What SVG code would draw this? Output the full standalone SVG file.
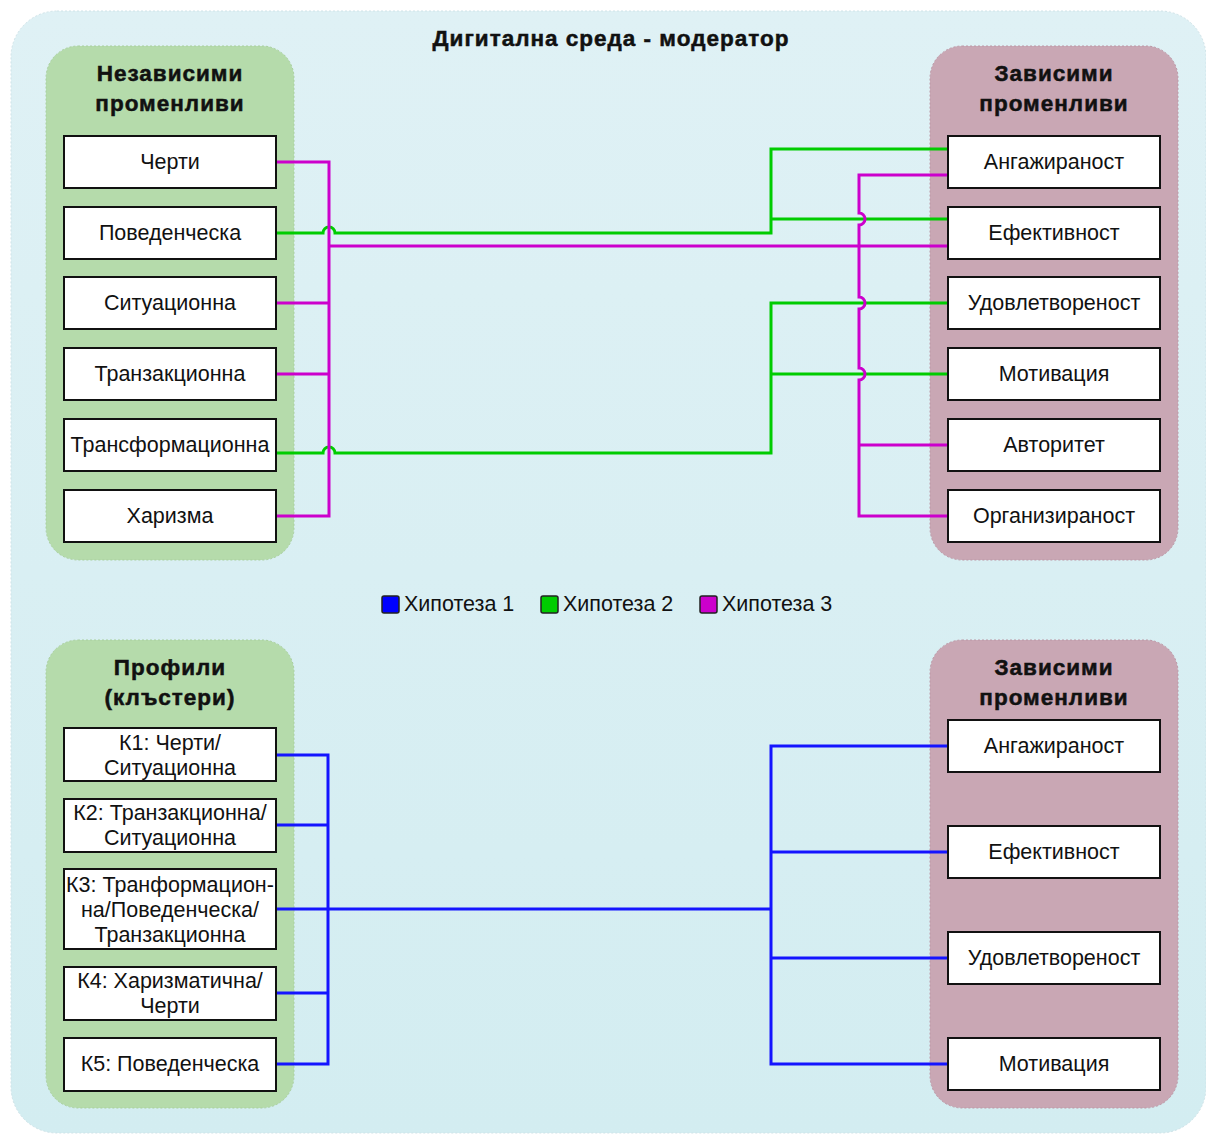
<svg xmlns="http://www.w3.org/2000/svg" width="1206" height="1138" viewBox="0 0 1206 1138">
<defs>
<linearGradient id="bg" x1="0" y1="0" x2="0" y2="1">
<stop offset="0" stop-color="#dff1f5"/>
<stop offset="1" stop-color="#d3edf1"/>
</linearGradient>
<style>
.t{font-family:"Liberation Sans",Arial,Helvetica,sans-serif;font-size:21.5px;fill:#111;text-anchor:middle}
.b{font-weight:bold;font-size:22.5px;letter-spacing:1px;stroke:#111;stroke-width:0.5px}
.lg{text-anchor:start}
.box{fill:#fff;stroke:#111;stroke-width:2}
.gp{fill:#b5dbab;stroke:#a9cf9f;stroke-width:1;stroke-dasharray:2 2}
.pp{fill:#c9a7b4;stroke:#bb98a6;stroke-width:1;stroke-dasharray:2 2}
.ln{fill:none;stroke-width:3}
.m{stroke:#cc00cc}
.g{stroke:#00cc00}
.bl{stroke:#1414ff}
</style>
</defs>
<rect x="0" y="0" width="1206" height="1138" fill="#ffffff"/>
<rect id="bgpanel" x="11" y="11" width="1195" height="1122" rx="46" fill="url(#bg)" stroke="#cfe3e8" stroke-dasharray="2 2"/>
<text class="t b" x="611" y="46">Дигитална среда - модератор</text>

<g id="panel-independent">
<rect class="gp" x="46" y="46" width="248" height="514" rx="32"/>
<text class="t b" x="170" y="81">Независими</text>
<text class="t b" x="170" y="111">променливи</text>
</g>
<g id="panel-dependent-top">
<rect class="pp" x="930" y="46" width="248" height="514" rx="32"/>
<text class="t b" x="1054" y="81">Зависими</text>
<text class="t b" x="1054" y="111">променливи</text>
</g>
<g id="panel-profiles">
<rect class="gp" x="46" y="640" width="248" height="468" rx="32"/>
<text class="t b" x="170" y="675">Профили</text>
<text class="t b" x="170" y="705">(клъстери)</text>
</g>
<g id="panel-dependent-bottom">
<rect class="pp" x="930" y="640" width="248" height="468" rx="32"/>
<text class="t b" x="1054" y="675">Зависими</text>
<text class="t b" x="1054" y="705">променливи</text>
</g>

<g id="connectors">
<path class="ln g" d="M276,233 H323 a6,6 0 0 1 12,0 H771 V149 H948 M771,219 H948 M276,453 H323 a6,6 0 0 1 12,0 H771 V303 H948 M771,374 H948"/>
<path class="ln m" d="M276,162 H329 V516 H276 M276,303 H329 M276,374 H329 M329,246 H948 M948,175 H859 V213 a6,6 0 0 1 0,12 V297 a6,6 0 0 1 0,12 V368 a6,6 0 0 1 0,12 V516 H948 M859,445 H948"/>
<path class="ln bl" d="M276,755 H328 V1064 H276 M276,825 H328 M276,993 H328 M276,909 H771 M948,746 H771 V1064 H948 M771,852 H948 M771,958 H948"/>
</g>

<g id="n-cherti"><rect class="box" x="64" y="136" width="212" height="52"/><text class="t" x="170" y="169">Черти</text></g>
<g id="n-povedencheska"><rect class="box" x="64" y="207" width="212" height="52"/><text class="t" x="170" y="240">Поведенческа</text></g>
<g id="n-situacionna"><rect class="box" x="64" y="277" width="212" height="52"/><text class="t" x="170" y="310">Ситуационна</text></g>
<g id="n-tranzakcionna"><rect class="box" x="64" y="348" width="212" height="52"/><text class="t" x="170" y="381">Транзакционна</text></g>
<g id="n-transformacionna"><rect class="box" x="64" y="419" width="212" height="52"/><text class="t" x="170" y="452">Трансформационна</text></g>
<g id="n-harizma"><rect class="box" x="64" y="490" width="212" height="52"/><text class="t" x="170" y="523">Харизма</text></g>

<g id="n-angazhiranost"><rect class="box" x="948" y="136" width="212" height="52"/><text class="t" x="1054" y="169">Ангажираност</text></g>
<g id="n-efektivnost"><rect class="box" x="948" y="207" width="212" height="52"/><text class="t" x="1054" y="240">Ефективност</text></g>
<g id="n-udovletvorenost"><rect class="box" x="948" y="277" width="212" height="52"/><text class="t" x="1054" y="310">Удовлетвореност</text></g>
<g id="n-motivacia"><rect class="box" x="948" y="348" width="212" height="52"/><text class="t" x="1054" y="381">Мотивация</text></g>
<g id="n-avtoritet"><rect class="box" x="948" y="419" width="212" height="52"/><text class="t" x="1054" y="452">Авторитет</text></g>
<g id="n-organiziranost"><rect class="box" x="948" y="490" width="212" height="52"/><text class="t" x="1054" y="523">Организираност</text></g>

<g id="legend">
<rect x="382" y="596" width="17" height="17" rx="2" fill="#0000ff" stroke="#222" stroke-width="1.5"/>
<text class="t lg" x="404" y="611">Хипотеза 1</text>
<rect x="541" y="596" width="17" height="17" rx="2" fill="#00cc00" stroke="#222" stroke-width="1.5"/>
<text class="t lg" x="563" y="611">Хипотеза 2</text>
<rect x="700" y="596" width="17" height="17" rx="2" fill="#cc00cc" stroke="#222" stroke-width="1.5"/>
<text class="t lg" x="722" y="611">Хипотеза 3</text>
</g>

<g id="n-k1"><rect class="box" x="64" y="728" width="212" height="53"/><text class="t" x="170" y="750">К1: Черти/</text><text class="t" x="170" y="775">Ситуационна</text></g>
<g id="n-k2"><rect class="box" x="64" y="799" width="212" height="53"/><text class="t" x="170" y="820">К2: Транзакционна/</text><text class="t" x="170" y="845">Ситуационна</text></g>
<g id="n-k3"><rect class="box" x="64" y="869" width="212" height="80"/><text class="t" x="170" y="892">К3: Транформацион-</text><text class="t" x="170" y="917">на/Поведенческа/</text><text class="t" x="170" y="942">Транзакционна</text></g>
<g id="n-k4"><rect class="box" x="64" y="967" width="212" height="53"/><text class="t" x="170" y="988">К4: Харизматична/</text><text class="t" x="170" y="1013">Черти</text></g>
<g id="n-k5"><rect class="box" x="64" y="1038" width="212" height="53"/><text class="t" x="170" y="1071">К5: Поведенческа</text></g>

<g id="n-angazhiranost2"><rect class="box" x="948" y="720" width="212" height="52"/><text class="t" x="1054" y="753">Ангажираност</text></g>
<g id="n-efektivnost2"><rect class="box" x="948" y="826" width="212" height="52"/><text class="t" x="1054" y="859">Ефективност</text></g>
<g id="n-udovletvorenost2"><rect class="box" x="948" y="932" width="212" height="52"/><text class="t" x="1054" y="965">Удовлетвореност</text></g>
<g id="n-motivacia2"><rect class="box" x="948" y="1038" width="212" height="52"/><text class="t" x="1054" y="1071">Мотивация</text></g>
</svg>
